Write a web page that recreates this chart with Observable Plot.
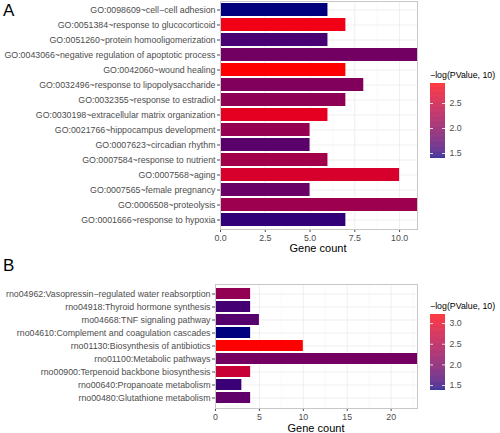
<!DOCTYPE html>
<html>
<head>
<meta charset="utf-8">
<script src="https://cdn.jsdelivr.net/npm/d3@7"></script>
<script src="https://cdn.jsdelivr.net/npm/@observablehq/plot@0.6"></script>
<style>
  html, body { margin: 0; padding: 0; background: #fff; }
  #wrap { position: relative; width: 500px; height: 433px; font-family: "Liberation Sans", Arial, Helvetica, sans-serif; overflow: hidden; }
  .abs { position: absolute; }
  .tag { position: absolute; font-size: 17px; color: #000; line-height: 1; }
  .ltitle { position: absolute; font-size: 8.8px; color: #000; white-space: nowrap; line-height: 1; }
  .xtitle { position: absolute; font-size: 11px; color: #000; white-space: nowrap; line-height: 1; transform: translateX(-50%); }
  svg { overflow: visible; }
</style>
</head>
<body>
<div id="wrap">
  <div class="tag" style="left:3px;top:2px;">A</div>
  <div class="tag" style="left:3px;top:257px;">B</div>
  <div id="chartA" class="abs" style="left:0;top:0;"></div>
  <div id="chartB" class="abs" style="left:0;top:270px;"></div>
  <div class="xtitle" style="left:318px;top:243px;">Gene count</div>
  <div class="xtitle" style="left:316px;top:423px;">Gene count</div>
  <div class="ltitle" style="left:430px;top:71px;">−log(PValue, 10)</div>
  <div id="legA" class="abs" style="left:430px;top:83px;"></div>
  <div class="ltitle" style="left:430px;top:302px;">−log(PValue, 10)</div>
  <div id="legB" class="abs" style="left:430px;top:314px;"></div>
</div>
<script>
// ---- Panel A data (top to bottom) ----
const termsA = [
  "GO:0098609~cell−cell adhesion",
  "GO:0051384~response to glucocorticoid",
  "GO:0051260~protein homooligomerization",
  "GO:0043066~negative regulation of apoptotic process",
  "GO:0042060~wound healing",
  "GO:0032496~response to lipopolysaccharide",
  "GO:0032355~response to estradiol",
  "GO:0030198~extracellular matrix organization",
  "GO:0021766~hippocampus development",
  "GO:0007623~circadian rhythm",
  "GO:0007584~response to nutrient",
  "GO:0007568~aging",
  "GO:0007565~female pregnancy",
  "GO:0006508~proteolysis",
  "GO:0001666~response to hypoxia"
];
const countsA = [6, 7, 6, 11, 7, 8, 7, 6, 5, 5, 6, 10, 5, 11, 7];
const logPA   = [1.40, 2.80, 1.60, 1.85, 2.90, 1.95, 2.05, 2.70, 2.10, 1.70, 2.20, 2.60, 1.80, 2.15, 1.50];
const ticksA = [0, 2.5, 5, 7.5, 10];
const minorA = [1.25, 3.75, 6.25, 8.75];
const legTicksA = [1.5, 2.0, 2.5];

// ---- Panel B data (top to bottom) ----
const termsB = [
  "rno04962:Vasopressin−regulated water reabsorption",
  "rno04918:Thyroid hormone synthesis",
  "rno04668:TNF signaling pathway",
  "rno04610:Complement and coagulation cascades",
  "rno01130:Biosynthesis of antibiotics",
  "rno01100:Metabolic pathways",
  "rno00900:Terpenoid backbone biosynthesis",
  "rno00640:Propanoate metabolism",
  "rno00480:Glutathione metabolism"
];
const countsB = [4, 4, 5, 4, 10, 23, 4, 3, 4];
const logPB   = [2.20, 1.60, 1.72, 1.38, 3.22, 1.95, 2.70, 1.55, 1.80];
const ticksB = [0, 5, 10, 15, 20];
const minorB = [2.5, 7.5, 12.5, 17.5, 22.5];
const legTicksB = [1.5, 2.0, 2.5, 3.0];

const LOW = "#00007f", HIGH = "#ff0000";
const FONT = "Liberation Sans, Arial, Helvetica, sans-serif";

function bars(terms, counts, logp, opts) {
  const data = terms.map((t, i) => ({term: t, count: counts[i], p: logp[i]}));
  const dom = d3.extent(logp);
  return Plot.plot({
    width: 420,
    height: opts.height,
    marginLeft: opts.marginLeft,
    marginRight: 3,
    marginTop: opts.marginTop,
    marginBottom: opts.marginBottom,
    style: {fontFamily: FONT, fontSize: "8.8px", color: "#4d4d4d", background: "transparent"},
    x: {domain: [0, opts.xmax], ticks: opts.ticks, tickFormat: opts.fmt, tickSize: 3, tickPadding: 2,
        label: null, line: false},
    y: {domain: terms, padding: 0.12, tickSize: 3, tickPadding: 2, label: null},
    color: {type: "linear", domain: dom, range: [LOW, HIGH], interpolate: "lab"},
    marks: [
      Plot.ruleX(opts.minor, {stroke: "#f2f2f2", strokeWidth: 0.5}),
      Plot.ruleX(opts.ticks, {stroke: "#ebebeb", strokeWidth: 0.8}),
      Plot.ruleY(terms, {y: d => d, stroke: "#ebebeb", strokeWidth: 0.8}),
      Plot.barX(data, {x: "count", y: "term", fill: "p"}),
      Plot.frame({stroke: "#c8c8c8", strokeWidth: 1})
    ]
  });
}

function legend(logp, ticks, h) {
  const dom = d3.extent(logp);
  const n = 120, step = (dom[1] - dom[0]) / n;
  const stops = d3.range(n).map(i => dom[0] + i * step);
  return Plot.plot({
    width: 60, height: h,
    marginLeft: 0, marginRight: 45, marginTop: 0, marginBottom: 0,
    style: {fontFamily: FONT, fontSize: "8.8px", color: "#4d4d4d", background: "transparent"},
    x: {domain: [0, 1], axis: null},
    y: {domain: dom, axis: "right", ticks: ticks, tickFormat: ".1f", tickSize: 0, tickPadding: 4, label: null},
    color: {type: "linear", domain: dom, range: [LOW, HIGH], interpolate: "lab"},
    marks: [
      Plot.rect(stops, {x1: 0, x2: 1, y1: d => d, y2: d => Math.min(dom[1], d + step * 1.02), fill: d => d}),
      Plot.ruleY(ticks, {x1: 0, x2: 0.2, stroke: "white", strokeWidth: 0.8}),
      Plot.ruleY(ticks, {x1: 0.8, x2: 1, stroke: "white", strokeWidth: 0.8})
    ]
  });
}

document.getElementById("chartA").append(bars(termsA, countsA, logPA, {
  height: 255, marginLeft: 220, marginTop: 1, marginBottom: 26, xmax: 11,
  ticks: ticksA, minor: minorA, fmt: ".1f"
}));
document.getElementById("chartB").append(bars(termsB, countsB, logPB, {
  height: 163, marginLeft: 215, marginTop: 14, marginBottom: 25, xmax: 23,
  ticks: ticksB, minor: minorB, fmt: "d"
}));
document.getElementById("legA").append(legend(logPA, legTicksA, 75));
document.getElementById("legB").append(legend(logPB, legTicksB, 76));
</script>
</body>
</html>
